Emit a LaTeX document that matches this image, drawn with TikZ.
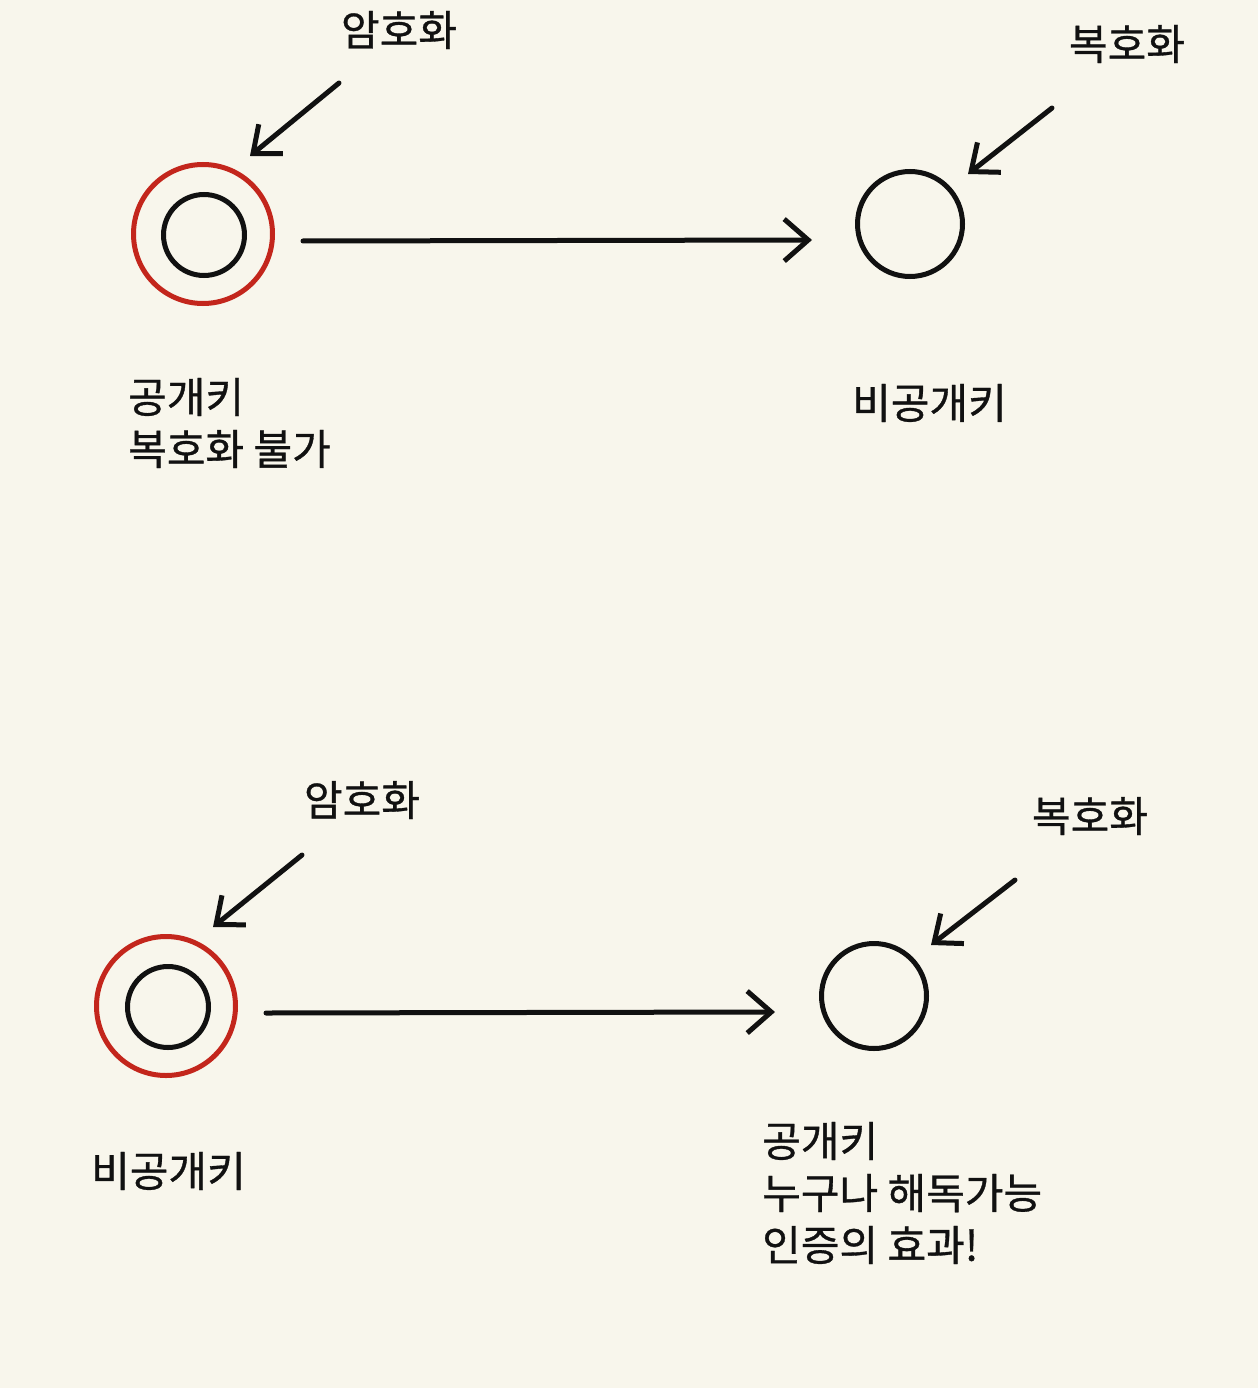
\documentclass[tikz,border=0pt]{standalone}
\usepackage{fontspec}
\newfontfamily\kr[FakeBold=0.8]{Noto Sans CJK KR}
\usetikzlibrary{arrows.meta}
\definecolor{bgc}{HTML}{F8F6EC}
\definecolor{redc}{HTML}{C3261C}
\definecolor{inkc}{HTML}{111111}
\begin{document}
\begin{tikzpicture}[x=1pt,y=-1pt,
  ring/.style={circle,draw=redc,line width=5pt,minimum size=139pt,inner sep=0pt},
  core/.style={circle,draw=inkc,line width=5pt,minimum size=81pt,inner sep=0pt},
  target/.style={circle,draw=inkc,line width=5pt,minimum size=105pt,inner sep=0pt},
  lbl/.style={font=\kr\fontsize{42}{52}\selectfont,text=inkc,inner sep=0pt,align=left},
  bigarrow/.style={draw=inkc,line width=5pt,line cap=round,line join=round,-{Straight Barb[length=24pt,width=42pt,line width=5pt]}},
  smallarrow/.style={draw=inkc,line width=5pt,line cap=round,line join=round,-{Straight Barb[length=23pt,width=38pt,line width=5pt]}}]
\fill[bgc] (0,0) rectangle (1258,1388);
\useasboundingbox (0,0) rectangle (1258,1388);

% ---------- top diagram ----------
\node[ring] (r1) at (203,234) {};
\node[core] (k1) at (204,235) {};
\node[target] (t1) at (910,224) {};
\node[lbl,anchor=center] (e1) at (399,30) {암호화};
\node[lbl,anchor=center] (d1) at (1127,44) {복호화};
\node[lbl,anchor=west] (p1) at (128,423) {공개키\\복호화 불가};
\node[lbl,anchor=west] (q1) at (852,403) {비공개키};
\coordinate (a1s) at (303,241);
\coordinate (a1e) at (812,240);
\coordinate (e1s) at (339,83);
\coordinate (e1e) at (250,156);
\coordinate (d1s) at (1052,108);
\coordinate (d1e) at (968,174);
\draw[bigarrow] (a1s) -- (a1e);
\draw[smallarrow] (e1s) -- (e1e);
\draw[smallarrow] (d1s) -- (d1e);

% ---------- bottom diagram ----------
\node[ring] (r2) at (166,1006) {};
\node[core] (k2) at (168,1007) {};
\node[target] (t2) at (874,996) {};
\node[lbl,anchor=center] (e2) at (362,800) {암호화};
\node[lbl,anchor=center] (d2) at (1090,816) {복호화};
\node[lbl,anchor=west] (p2) at (91,1171) {비공개키};
\node[lbl,anchor=west] (q2) at (762,1193) {공개키\\누구나 해독가능\\인증의 효과!};
\coordinate (a2s) at (266,1013);
\coordinate (a2e) at (775,1012);
\coordinate (e2s) at (302,855);
\coordinate (e2e) at (213,927);
\coordinate (d2s) at (1015,880);
\coordinate (d2e) at (931,945);
\draw[bigarrow] (a2s) -- (a2e);
\draw[smallarrow] (e2s) -- (e2e);
\draw[smallarrow] (d2s) -- (d2e);
\end{tikzpicture}
\end{document}
